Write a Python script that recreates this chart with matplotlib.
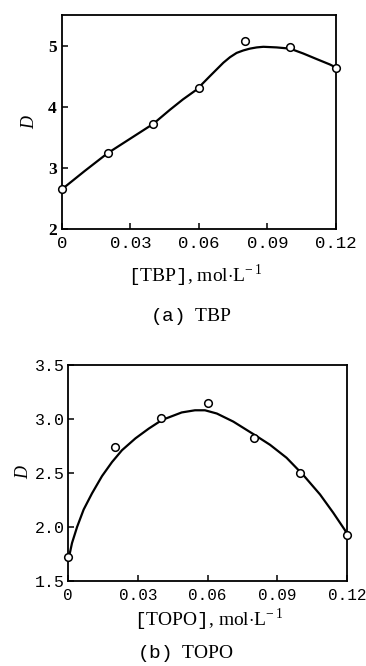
import numpy as np
import matplotlib
matplotlib.use("Agg")
import matplotlib.pyplot as plt

tbp_x = [0, 0.02, 0.04, 0.06, 0.08, 0.10, 0.12]
tbp_d = [2.65, 3.25, 3.72, 4.30, 5.07, 4.97, 4.64]
tbp_curve_x = [0, 0.01, 0.02, 0.03, 0.04, 0.0473, 0.053, 0.059, 0.0648,
               0.0707, 0.0736, 0.0765, 0.0794, 0.0823, 0.0853, 0.0882, 0.094,
               0.0999, 0.1057, 0.1115, 0.1174, 0.12]
tbp_curve_d = [2.65, 2.95, 3.24, 3.48, 3.72, 3.95, 4.12, 4.28, 4.50,
               4.72, 4.81, 4.88, 4.92, 4.95, 4.97, 4.98, 4.97,
               4.95, 4.87, 4.78, 4.69, 4.64]

# (b) TOPO
topo_x = [0, 0.02, 0.04, 0.06, 0.08, 0.10, 0.12]
topo_d = [1.72, 2.74, 3.01, 3.145, 2.82, 2.50, 1.92]
topo_curve_x = [0, 0.0006, 0.0017, 0.0039, 0.0067, 0.0103, 0.0146, 0.0189,
                0.0232, 0.029, 0.0347, 0.0404, 0.0489, 0.0546, 0.0589, 0.064,
                0.0711, 0.0804, 0.0869, 0.094, 0.1012, 0.1084, 0.1141, 0.1191,
                0.12]
topo_curve_d = [1.72, 1.74, 1.85, 2.00, 2.16, 2.31, 2.47, 2.60,
                2.71, 2.82, 2.91, 2.99, 3.06, 3.08, 3.08, 3.05,
                2.975, 2.85, 2.76, 2.64, 2.48, 2.30, 2.13, 1.97,
                1.93]

xticks = [0, 0.03, 0.06, 0.09, 0.12]
xticklabels = ["0", "0.03", "0.06", "0.09", "0.12"]

serif = "Liberation Serif"
mono = "Liberation Mono"
plt.rcParams["mathtext.fontset"] = "custom"
plt.rcParams["mathtext.rm"] = serif
plt.rcParams["mathtext.tt"] = mono

fig = plt.figure(figsize=(3.66, 6.66), dpi=100)
ax1 = fig.add_axes([0.169, 0.656, 0.749, 0.3215])
ax2 = fig.add_axes([0.186, 0.128, 0.762, 0.324])


def style(ax, size):
    for s in ax.spines.values():
        s.set_linewidth(1.3)
    ax.tick_params(direction="in", length=4, width=1.1, top=False, right=False)
    ax.tick_params(axis="x", pad=5)
    ax.set_xticks(xticks)
    ax.set_xticklabels(xticklabels, family=mono, fontsize=size)
    ax.set_xlim(0, 0.12)


ax1.plot(tbp_curve_x, tbp_curve_d, color="black", lw=1.6, zorder=2,
         solid_joinstyle="round")
ax1.plot(tbp_x, tbp_d, "o", ms=5.5, mfc="white", mec="black", mew=1.1,
         clip_on=False, zorder=3)
style(ax1, 12.5)
ax1.set_ylim(2, 5.5)
ax1.set_yticks([2, 3, 4, 5])
ax1.set_yticklabels(["2", "3", "4", "5"], family=serif, fontsize=12.5,
                    fontweight="bold")
ax1.set_ylabel("D", family=serif, style="italic", fontsize=13, labelpad=7)
fig.text(0.535, 0.5766, r"$\mathtt{[}$TBP$\mathtt{]}$, mol$\cdot$L$^{-\,1}$",
         family=serif, fontsize=14, ha="center", va="baseline")
fig.text(0.522, 0.518, r"$\mathtt{(a)}$  TBP", family=serif, fontsize=14,
         ha="center", va="baseline")

ax2.plot(topo_curve_x, topo_curve_d, color="black", lw=1.6, zorder=2,
         solid_joinstyle="round")
ax2.plot(topo_x, topo_d, "o", ms=5.5, mfc="white", mec="black", mew=1.1,
         clip_on=False, zorder=3)
style(ax2, 11.5)
ax2.set_ylim(1.5, 3.5)
ax2.set_yticks([1.5, 2.0, 2.5, 3.0, 3.5])
ax2.set_yticklabels(["1.5", "2.0", "2.5", "3.0", "3.5"], family=mono,
                    fontsize=12)
ax2.tick_params(axis="y", pad=2)
ax2.set_ylabel("D", family=serif, style="italic", fontsize=13, labelpad=2)
fig.text(0.571, 0.060, r"$\mathtt{[}$TOPO$\mathtt{]}$, mol$\cdot$L$^{-\,1}$",
         family=serif, fontsize=14, ha="center", va="baseline")
fig.text(0.508, 0.012, r"$\mathtt{(b)}$  TOPO", family=serif, fontsize=14,
         ha="center", va="baseline")

fig.savefig("out.png", dpi=100)
